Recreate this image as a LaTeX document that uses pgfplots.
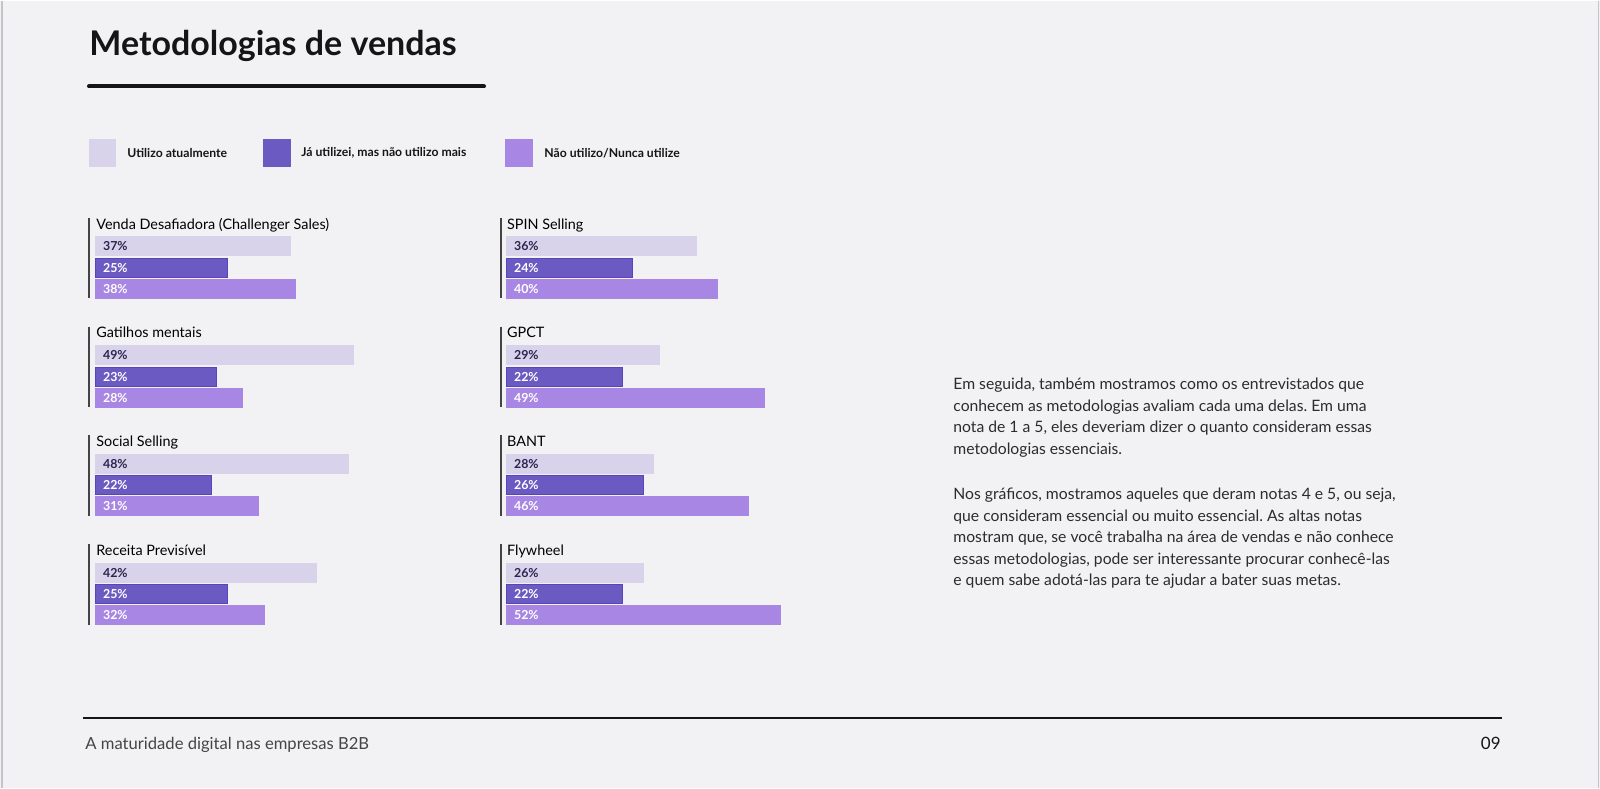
\documentclass[border=0pt]{standalone}
\usepackage{fontspec}
\setmainfont{Lato}
\usepackage{pgfplots}
\pgfplotsset{compat=1.18}
\frenchspacing

\definecolor{bg}{HTML}{F2F2F5}
\definecolor{frame}{HTML}{C4C4C8}
\definecolor{cLight}{HTML}{D8D3EA}
\definecolor{cDark}{HTML}{6A5AC1}
\definecolor{cDarkB}{HTML}{5845BE}
\definecolor{cMid}{HTML}{A886E3}
\definecolor{ink}{HTML}{151515}
\definecolor{navy}{HTML}{2B2550}

\pgfplotsset{
  colaxis/.style={
    scale only axis, hide axis, clip=false,
    width=158.4pt, height=220pt,
    xmin=0, xmax=60, ymin=200, ymax=640, y dir=reverse,
    anchor=north west,
  },
  metbar/.style={xbar, bar width=9.5pt, bar shift=0pt},
  metlbl/.style={draw=none, mark=none, point meta=explicit symbolic,
    nodes near coords={\pgfplotspointmeta\%},
    nodes near coords align=horizontal,
    every node near coord/.append style={anchor=west, inner sep=0pt,
      xshift=3.85pt, font=\bfseries\fontsize{6.2}{7}\selectfont, text=#1}},
}

\begin{document}
\begin{tikzpicture}[x=0.5pt,y=-0.5pt]
% page
\fill[bg] (0,0) rectangle (1600,787);
\draw[frame, line width=0.75pt] (2,0) -- (2,787);
\draw[frame, line width=0.75pt] (1598.5,0) -- (1598.5,787);

% title
\node[anchor=base west, inner sep=0pt, text=ink, font=\bfseries\fontsize{17}{20}\selectfont]
  at (89,54.3) {Metodologias de vendas};
\draw[ink, line width=2pt, line cap=round] (89,85.7) -- (484,85.7);

% legend
\fill[cLight] (89,138) rectangle (116,166);
\fill[cDark] (263,138) rectangle (291,166);
\fill[cMid] (505,138) rectangle (533,166);
\begin{scope}[every node/.style={anchor=west, inner sep=0pt, text=ink,
    font=\bfseries\fontsize{6.1}{7}\selectfont}]
\node at (127,152) {Utilizo atualmente};
\node at (301,152) {Já utilizei, mas não utilizo mais};
\node at (544,152) {Não utilizo/Nunca utilize};
\end{scope}

% group rules and titles
\begin{scope}[every node/.style={anchor=base west, inner sep=0pt, text=black,
    font=\fontsize{7.2}{9}\selectfont}]
\foreach \g in {0,1,2,3}{
  \draw[ink!80, line width=1pt] (89,217+108.8*\g) -- (89,297.5+108.8*\g);
  \draw[ink!80, line width=1pt] (500.7,217+108.8*\g) -- (500.7,297.5+108.8*\g);
}
\node at (96,228.3) {Venda Desafiadora (Challenger Sales)};
\node at (96,337.1) {Gatilhos mentais};
\node at (96,445.9) {Social Selling};
\node at (96,554.7) {Receita Previsível};
\node at (506.7,228.3) {SPIN Selling};
\node at (506.7,337.1) {GPCT};
\node at (506.7,445.9) {BANT};
\node at (506.7,554.7) {Flywheel};
\end{scope}

% left column
\begin{axis}[colaxis, at={(47.5pt,-100pt)}]
\addplot[metbar, fill=cLight, draw=cLight] coordinates
  {(37,245.5) (49,354.3) (48,463.1) (42,571.9)};
\addplot[metbar, fill=cDark, draw=cDarkB] coordinates
  {(25,267) (23,375.8) (22,484.6) (25,593.4)};
\addplot[metbar, fill=cMid, draw=cMid] coordinates
  {(38,288) (28,396.8) (31,505.6) (32,614.4)};
\addplot[metlbl=navy] coordinates
  {(0,245.5) [37] (0,354.3) [49] (0,463.1) [48] (0,571.9) [42]};
\addplot[metlbl=white] coordinates
  {(0,267) [25] (0,375.8) [23] (0,484.6) [22] (0,593.4) [25]};
\addplot[metlbl=white] coordinates
  {(0,288) [38] (0,396.8) [28] (0,505.6) [31] (0,614.4) [32]};
\end{axis}

% right column
\begin{axis}[colaxis, at={(253pt,-100pt)}]
\addplot[metbar, fill=cLight, draw=cLight] coordinates
  {(36,245.5) (29,354.3) (28,463.1) (26,571.9)};
\addplot[metbar, fill=cDark, draw=cDarkB] coordinates
  {(24,267) (22,375.8) (26,484.6) (22,593.4)};
\addplot[metbar, fill=cMid, draw=cMid] coordinates
  {(40,288) (49,396.8) (46,505.6) (52,614.4)};
\addplot[metlbl=navy] coordinates
  {(0,245.5) [36] (0,354.3) [29] (0,463.1) [28] (0,571.9) [26]};
\addplot[metlbl=white] coordinates
  {(0,267) [24] (0,375.8) [22] (0,484.6) [26] (0,593.4) [22]};
\addplot[metlbl=white] coordinates
  {(0,288) [40] (0,396.8) [49] (0,505.6) [46] (0,614.4) [52]};
\end{axis}

% side text
\begin{scope}[every node/.style={anchor=base west, inner sep=0pt, text=ink!90,
    font=\fontsize{7.85}{10}\selectfont}]
\node at (953,389) {Em seguida, também mostramos como os entrevistados que};
\node at (953,411) {conhecem as metodologias avaliam cada uma delas. Em uma};
\node at (953,432) {nota de 1 a 5, eles deveriam dizer o quanto consideram essas};
\node at (953,454) {metodologias essenciais.};
\node at (953,499) {Nos gráficos, mostramos aqueles que deram notas 4 e 5, ou seja,};
\node at (953,521) {que consideram essencial ou muito essencial. As altas notas};
\node at (953,542) {mostram que, se você trabalha na área de vendas e não conhece};
\node at (953,564) {essas metodologias, pode ser interessante procurar conhecê-las};
\node at (953,585) {e quem sabe adotá-las para te ajudar a bater suas metas.};
\end{scope}

% footer
\draw[ink, line width=1pt] (83,717.7) -- (1502,717.7);
\node[anchor=base west, inner sep=0pt, text=ink!80, font=\fontsize{8.3}{10}\selectfont]
  at (85,749) {A maturidade digital nas empresas B2B};
\node[anchor=base east, inner sep=0pt, text=ink, font=\fontsize{8.5}{10}\selectfont]
  at (1501,749) {09};
\end{tikzpicture}
\end{document}
